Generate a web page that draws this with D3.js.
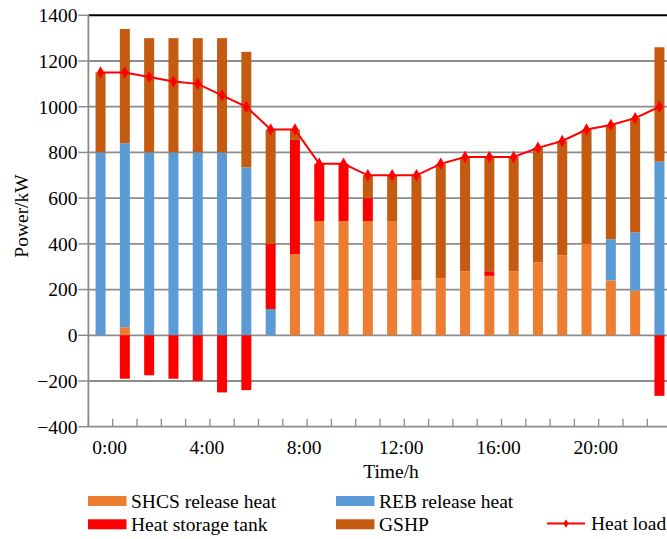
<!DOCTYPE html>
<html lang="en">
<head>
    <meta charset="UTF-8">
    <title>Heat supply by hour</title>
    <script src="https://d3js.org/d3.v7.min.js"></script>
    <style>
        body { margin: 0; background: #fff; }
        text { font-family: "Liberation Serif", "Times New Roman", serif; fill: #000; }
    </style>
</head>
<body>
    <script>
// hourly values (kW)
const hours = d3.range(24);
const shcs = [0, 35, 0, 0, 0, 0, 0, 0, 355, 500, 500, 500, 500, 240, 250, 280, 260, 280, 320, 350, 400, 240, 195, 0];
const reb = [800, 805, 800, 800, 800, 800, 735, 115, 0, 0, 0, 0, 0, 0, 0, 0, 0, 0, 0, 0, 0, 180, 255, 760];
const tank = [0, -190, -175, -190, -200, -250, -240, 285, 500, 250, 250, 100, 0, 0, 0, 0, 20, 0, 0, 0, 0, 0, 0, -265];
const gshp = [350, 500, 500, 500, 500, 500, 505, 500, 45, 0, 0, 100, 200, 460, 500, 500, 500, 500, 500, 500, 500, 500, 500, 500];
const heatLoad = [1150, 1150, 1130, 1110, 1100, 1050, 1000, 900, 900, 750, 750, 700, 700, 700, 750, 780, 780, 780, 820, 850, 900, 920, 950, 1000];
const yTicks = [-400, -200, 0, 200, 400, 600, 800, 1000, 1200, 1400];
const xLabels = ['0:00', '4:00', '8:00', '12:00', '16:00', '20:00'];

const series = [
    { name: 'SHCS release heat', values: shcs, color: '#ed7d31' },
    { name: 'REB release heat', values: reb, color: '#5b9bd5' },
    { name: 'Heat storage tank', values: tank, color: '#ff0000' },
    { name: 'GSHP', values: gshp, color: '#c55a11' }
];

const width = 667, height = 539;
const plotLeft = 88.4, plotTop = 15.3, plotBottom = 426.7;
const band = 24.3;
const fs = '19.5px';

const svg = d3.select('body').append('svg')
    .attr('width', width)
    .attr('height', height);

const x = d3.scaleBand()
    .domain(hours)
    .range([plotLeft, plotLeft + band * 24])
    .padding(0);

const y = d3.scaleLinear()
    .domain([-400, 1400])
    .range([plotBottom, plotTop]);

// grid
svg.append('g').selectAll('line')
    .data(yTicks.filter(d => d !== -400 && d !== 1400))
    .enter().append('line')
    .attr('x1', plotLeft).attr('x2', width)
    .attr('y1', d => y(d)).attr('y2', d => y(d))
    .attr('stroke', '#8c8c8c')
    .attr('stroke-width', 1.8);

svg.append('line')
    .attr('x1', plotLeft).attr('x2', width)
    .attr('y1', y(1400)).attr('y2', y(1400))
    .attr('stroke', '#000')
    .attr('stroke-width', 2);

// stacked bars: positives stack upward in series order, negatives downward
const barW = 10;
const stacks = [];
hours.forEach(i => {
    let pos = 0, neg = 0;
    series.forEach(s => {
        const v = s.values[i];
        if (!v) return;
        if (v > 0) {
            stacks.push({ i, y0: pos, y1: pos + v, color: s.color });
            pos += v;
        } else {
            stacks.push({ i, y0: neg + v, y1: neg, color: s.color });
            neg += v;
        }
    });
});

svg.append('g').selectAll('rect')
    .data(stacks)
    .enter().append('rect')
    .attr('x', d => x(d.i) + x.bandwidth() / 2 - barW / 2)
    .attr('width', barW)
    .attr('y', d => y(d.y1))
    .attr('height', d => y(d.y0) - y(d.y1))
    .attr('fill', d => d.color);

// y axis
const yAxis = svg.append('g');
yAxis.append('line')
    .attr('x1', plotLeft).attr('x2', plotLeft)
    .attr('y1', plotTop).attr('y2', plotBottom)
    .attr('stroke', '#8c8c8c').attr('stroke-width', 1.8);
yAxis.selectAll('.tick')
    .data(yTicks)
    .enter().append('line')
    .attr('x1', plotLeft - 10).attr('x2', plotLeft)
    .attr('y1', d => y(d)).attr('y2', d => y(d))
    .attr('stroke', '#8c8c8c').attr('stroke-width', 1.5);
yAxis.selectAll('text')
    .data(yTicks)
    .enter().append('text')
    .attr('x', plotLeft - 11)
    .attr('y', d => y(d))
    .attr('dy', '0.35em')
    .attr('text-anchor', 'end')
    .style('font-size', fs)
    .text(d => d < 0 ? '\u2212' + Math.abs(d) : d);

// x axis at the bottom, ticks on category boundaries pointing up
const xAxis = svg.append('g');
xAxis.append('line')
    .attr('x1', plotLeft).attr('x2', width)
    .attr('y1', plotBottom).attr('y2', plotBottom)
    .attr('stroke', '#8c8c8c').attr('stroke-width', 1.8);
xAxis.selectAll('.tick')
    .data(hours)
    .enter().append('line')
    .attr('x1', d => x(d)).attr('x2', d => x(d))
    .attr('y1', plotBottom - 8).attr('y2', plotBottom)
    .attr('stroke', '#8c8c8c').attr('stroke-width', 1.3);
xAxis.selectAll('text')
    .data(xLabels)
    .enter().append('text')
    .attr('x', (d, k) => x(k * 4 + 1) - 3)
    .attr('y', 454)
    .attr('text-anchor', 'middle')
    .style('font-size', fs)
    .text(d => d);

// heat load line
const line = d3.line()
    .x((d, i) => x(i) + x.bandwidth() / 2)
    .y(d => y(d));

svg.append('path')
    .datum(heatLoad)
    .attr('d', line)
    .attr('fill', 'none')
    .attr('stroke', '#ff0000')
    .attr('stroke-width', 2);

const diamond = d3.symbol().type(d3.symbolDiamond).size(45);
svg.append('g').selectAll('path')
    .data(heatLoad)
    .enter().append('path')
    .attr('d', diamond)
    .attr('transform', (d, i) => `translate(${x(i) + x.bandwidth() / 2},${y(d)})`)
    .attr('fill', '#ff0000');

// axis titles
svg.append('text')
    .attr('x', 391).attr('y', 478)
    .attr('text-anchor', 'middle')
    .style('font-size', fs)
    .text('Time/h');

svg.append('text')
    .attr('transform', 'translate(28,216) rotate(-90)')
    .attr('text-anchor', 'middle')
    .style('font-size', fs)
    .text('Power/kW');

// legend
const legendPos = [[88, 501], [336, 501], [88, 524.3], [336, 524.3]];
const legend = svg.append('g');
series.forEach((s, k) => {
    const [lx, ly] = legendPos[k];
    legend.append('rect')
        .attr('x', lx).attr('y', ly - 5)
        .attr('width', 38.5).attr('height', 10)
        .attr('fill', s.color);
    legend.append('text')
        .attr('x', lx + 43).attr('y', ly)
        .attr('dy', '0.35em')
        .style('font-size', fs)
        .text(s.name);
});
legend.append('line')
    .attr('x1', 547).attr('x2', 585)
    .attr('y1', 523.5).attr('y2', 523.5)
    .attr('stroke', '#ff0000').attr('stroke-width', 2);
legend.append('path')
    .attr('d', d3.symbol().type(d3.symbolDiamond).size(22))
    .attr('transform', 'translate(566,523.5)')
    .attr('fill', '#ff0000');
legend.append('text')
    .attr('x', 591).attr('y', 523.5)
    .attr('dy', '0.35em')
    .style('font-size', fs)
    .text('Heat load');
    </script>
</body>
</html>
